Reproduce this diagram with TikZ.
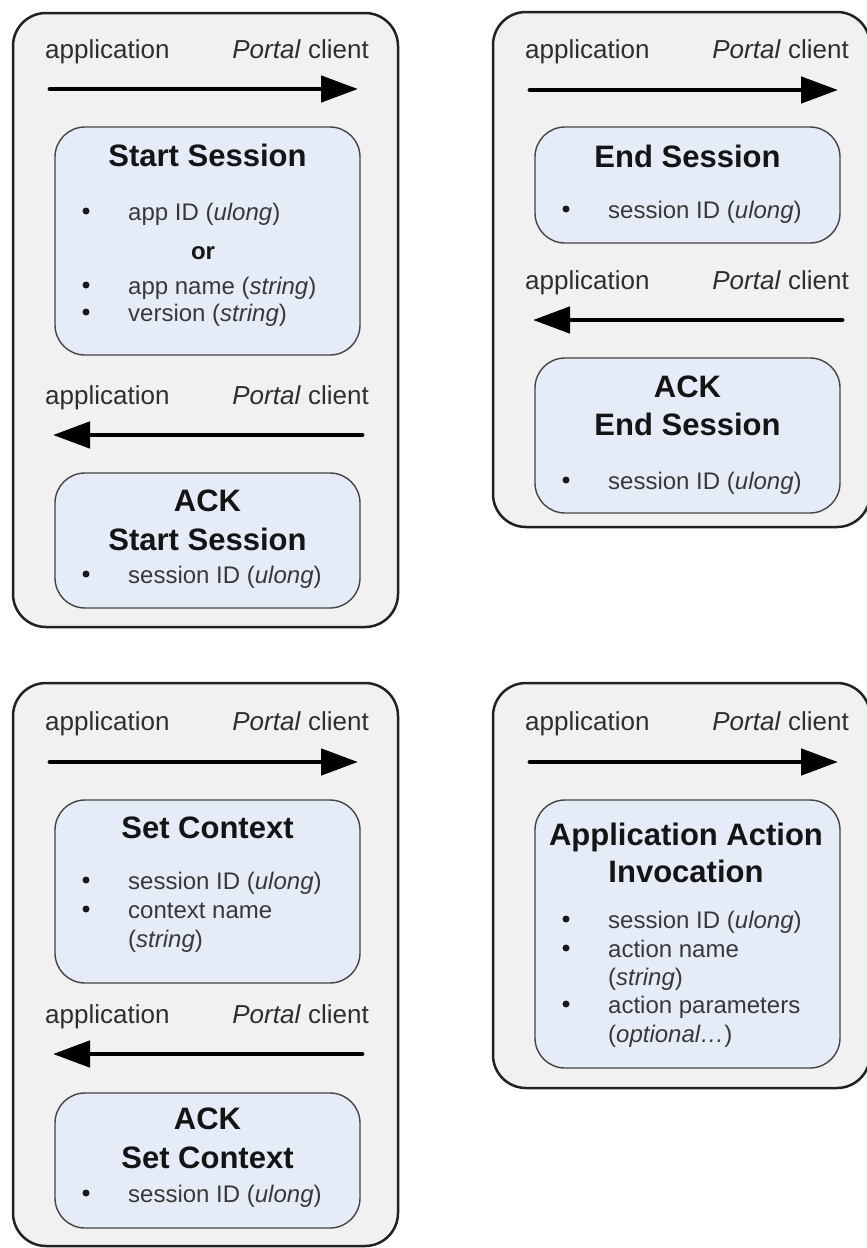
\documentclass[tikz,border=0pt]{standalone}
\usepackage{fontspec}
\setmainfont{Liberation Sans}
\usetikzlibrary{arrows.meta}

\definecolor{panelfill}{HTML}{F1F1F1}
\definecolor{panelline}{HTML}{222222}
\definecolor{msgfill}{HTML}{E6ECF7}
\definecolor{msgline}{HTML}{444444}
\definecolor{labeltext}{HTML}{2E2E2E}
\definecolor{itemtext}{HTML}{383838}

\tikzset{
  panel/.style={draw=panelline, fill=panelfill, line width=2.5pt, rounded corners=33pt},
  msg/.style={draw=msgline, fill=msgfill, line width=1.4pt, rounded corners=30pt},
  lbl/.style={inner sep=0pt, text=labeltext, font=\fontsize{26}{30}\selectfont},
  lblL/.style={lbl, anchor=base west},
  lblR/.style={lbl, anchor=base east},
  msgtitle/.style={inner sep=0pt, anchor=base, text=black!92, font=\fontsize{31}{37}\selectfont\bfseries},
  orword/.style={inner sep=0pt, anchor=base, text=black!92, font=\fontsize{24}{28}\selectfont\bfseries},
  item/.style={inner sep=0pt, anchor=base west, text=itemtext, font=\fontsize{24}{28}\selectfont},
  bul/.style={circle, fill=black!90, inner sep=0pt, minimum size=7pt},
  flow/.style={line width=4.8pt, line cap=round, -{Triangle[length=37pt,width=26pt]}},
}

% one bulleted parameter line: name, bullet x, baseline y, text
\newcommand\bitem[4]{%
  \node[bul] (#1-dot) at (#2,#3-9) {};
  \node[item] (#1) at (#2+42,#3) {#4};}

\begin{document}
\begin{tikzpicture}[x=1pt,y=-1pt]
\clip (0,0) rectangle (867,1248);
\fill[white] (0,0) rectangle (867,1248);

% ---------------- Start Session ----------------
\draw[panel] (13,13) rectangle (398,627);
\node[lblL] (p1-app) at (45,58) {application};
\node[lblR] (p1-cli) at (369,58) {\textit{Portal} client};
\coordinate (p1-a1s) at (50,89);
\coordinate (p1-a1e) at (358,89);
\draw[flow] (p1-a1s) -- (p1-a1e);
\draw[msg] (55,127) rectangle (360,355);
\node[msgtitle] (p1-t1) at (207.5,166) {Start Session};
\bitem{p1-i1}{86}{220}{app ID (\textit{ulong})}
\node[orword] (p1-or) at (203,259) {or};
\bitem{p1-i2}{86}{294}{app name (\textit{string})}
\bitem{p1-i3}{86}{321}{version (\textit{string})}
\node[lblL] (p1-app2) at (45,404) {application};
\node[lblR] (p1-cli2) at (369,404) {\textit{Portal} client};
\coordinate (p1-a2s) at (362,435);
\coordinate (p1-a2e) at (53,435);
\draw[flow] (p1-a2s) -- (p1-a2e);
\draw[msg] (55,473) rectangle (360,608);
\node[msgtitle] (p1-t2a) at (207.5,511) {ACK};
\node[msgtitle] (p1-t2b) at (207.5,550) {Start Session};
\bitem{p1-i4}{86}{583}{session ID (\textit{ulong})}

% ---------------- End Session ----------------
\draw[panel] (493,12) rectangle (870,527);
\node[lblL] (p2-app) at (525,58) {application};
\node[lblR] (p2-cli) at (849,58) {\textit{Portal} client};
\coordinate (p2-a1s) at (530,90);
\coordinate (p2-a1e) at (838,90);
\draw[flow] (p2-a1s) -- (p2-a1e);
\draw[msg] (535,127) rectangle (840,243);
\node[msgtitle] (p2-t1) at (687.5,167) {End Session};
\bitem{p2-i1}{566}{218}{session ID (\textit{ulong})}
\node[lblL] (p2-app2) at (525,289) {application};
\node[lblR] (p2-cli2) at (849,289) {\textit{Portal} client};
\coordinate (p2-a2s) at (842,320);
\coordinate (p2-a2e) at (533,320);
\draw[flow] (p2-a2s) -- (p2-a2e);
\draw[msg] (535,358) rectangle (840,513);
\node[msgtitle] (p2-t2a) at (687.5,397) {ACK};
\node[msgtitle] (p2-t2b) at (687.5,435) {End Session};
\bitem{p2-i2}{566}{489}{session ID (\textit{ulong})}

% ---------------- Set Context ----------------
\draw[panel] (13,683) rectangle (398,1246);
\node[lblL] (p3-app) at (45,730) {application};
\node[lblR] (p3-cli) at (369,730) {\textit{Portal} client};
\coordinate (p3-a1s) at (50,762);
\coordinate (p3-a1e) at (358,762);
\draw[flow] (p3-a1s) -- (p3-a1e);
\draw[msg] (55,800) rectangle (360,983);
\node[msgtitle] (p3-t1) at (207.5,838) {Set Context};
\bitem{p3-i1}{86}{889}{session ID (\textit{ulong})}
\bitem{p3-i2}{86}{918}{context name}
\node[item] (p3-i2b) at (128,947) {(\textit{string})};
\node[lblL] (p3-app2) at (45,1023) {application};
\node[lblR] (p3-cli2) at (369,1023) {\textit{Portal} client};
\coordinate (p3-a2s) at (362,1054);
\coordinate (p3-a2e) at (53,1054);
\draw[flow] (p3-a2s) -- (p3-a2e);
\draw[msg] (55,1093) rectangle (360,1228);
\node[msgtitle] (p3-t2a) at (207.5,1129) {ACK};
\node[msgtitle] (p3-t2b) at (207.5,1168) {Set Context};
\bitem{p3-i3}{86}{1202}{session ID (\textit{ulong})}

% ---------------- Application Action Invocation ----------------
\draw[panel] (493,683) rectangle (870,1088);
\node[lblL] (p4-app) at (525,730) {application};
\node[lblR] (p4-cli) at (849,730) {\textit{Portal} client};
\coordinate (p4-a1s) at (530,762);
\coordinate (p4-a1e) at (838,762);
\draw[flow] (p4-a1s) -- (p4-a1e);
\draw[msg] (535,800) rectangle (840,1068);
\node[msgtitle] (p4-t1a) at (686,845) {Application Action};
\node[msgtitle] (p4-t1b) at (686,882) {Invocation};
\bitem{p4-i1}{566}{928}{session ID (\textit{ulong})}
\bitem{p4-i2}{566}{957}{action name}
\node[item] (p4-i2b) at (608,985) {(\textit{string})};
\bitem{p4-i3}{566}{1013}{action parameters}
\node[item] (p4-i3b) at (608,1042) {(\textit{optional…})};
\end{tikzpicture}
\end{document}
